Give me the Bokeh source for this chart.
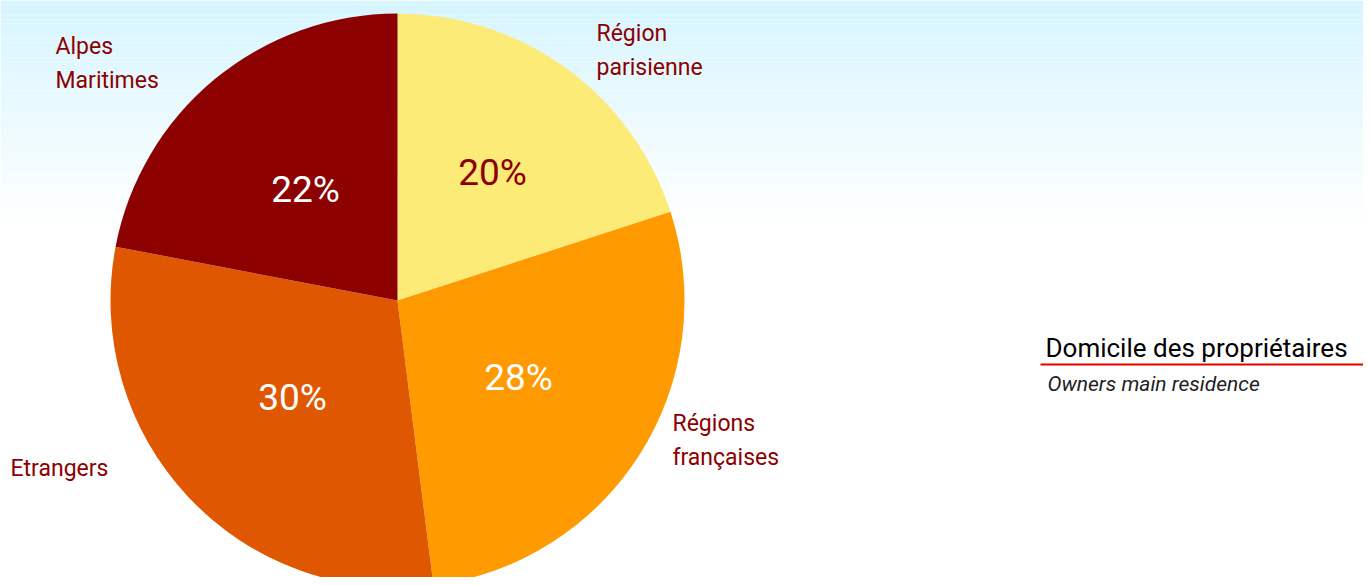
import math
from bokeh.plotting import figure
from bokeh.models import Range1d, ColumnDataSource
from bokeh.core.properties import value
from bokeh.embed import file_html
from bokeh.resources import INLINE

# ---- data ----
categories = ["Région\nparisienne", "Régions\nfrançaises", "Etrangers", "Alpes\nMaritimes"]
shares = [20, 28, 30, 22]
colors = ["#FDEB78", "#FF9A00", "#DF5800", "#8C0000"]
pct_colors = ["#8C0000", "#FFFFFF", "#FFFFFF", "#FFFFFF"]
title_text = "Domicile des propriétaires"
subtitle_text = "Owners  main residence"

# ---- layout (figure pixel coords, y up) ----
W, H = 1363, 577
def fx(x): return x
def fy(y): return H - y
K = 0.37  # baseline correction (fraction of font size)

cx, cy, R = fx(397), fy(300), 287
label_pos = [(596, 42), (672, 432), (10, 477), (55, 55)]       # left / first-line baseline
label_step = 34
pct_pos = [(492, 186), (518, 391), (292, 411), (305, 203)]      # centre / baseline of % labels

FONT = "Roboto"
PCT_SIZE, LAB_SIZE, TIT_SIZE, SUB_SIZE = 37, 23, 26, 21

p = figure(width=W, height=H, output_backend="svg", toolbar_location=None,
           x_range=Range1d(0, W), y_range=Range1d(0, H), min_border=0)
p.axis.visible = False
p.grid.visible = False
p.outline_line_color = None
p.background_fill_color = "white"
p.border_fill_color = "white"

# background gradient (decoration)
top_c = (214, 245, 255)
grad_end = fy(228)
n = 60
band_top, band_bot, band_col = [], [], []
for i in range(n):
    t0 = i / n
    t1 = (i + 1) / n
    band_top.append(H - (H - grad_end) * t0)
    band_bot.append(H - (H - grad_end) * t1)
    tm = (t0 + t1) / 2
    c = tuple(int(round(top_c[k] + (255 - top_c[k]) * tm)) for k in range(3))
    band_col.append("#%02x%02x%02x" % c)
p.quad(left=0, right=W, top=band_top, bottom=band_bot, fill_color=band_col, line_color=None)

# pie
total = sum(shares)
starts, ends = [], []
cum = 0
for s in shares:
    starts.append(math.pi / 2 - 2 * math.pi * cum / total)
    cum += s
    ends.append(math.pi / 2 - 2 * math.pi * cum / total)
src = ColumnDataSource(dict(start=starts, end=ends, color=colors))
p.wedge(x=cx, y=cy, radius=R, start_angle="start", end_angle="end", direction="clock",
        fill_color="color", line_color=None, source=src)

# percentage labels
p.text(x=[fx(px) for px, _ in pct_pos], y=[fy(py) + K * PCT_SIZE for _, py in pct_pos],
       text=[f"{s}%" for s in shares], text_color=pct_colors,
       text_font=value(FONT), text_font_size=f"{PCT_SIZE}px",
       text_align="center", text_baseline="alphabetic")

# category labels (one text per line)
lx, ly, lt = [], [], []
for cat, (x0, y0) in zip(categories, label_pos):
    for j, line in enumerate(cat.split("\n")):
        lx.append(fx(x0))
        ly.append(fy(y0 + j * label_step) + K * LAB_SIZE)
        lt.append(line)
p.text(x=lx, y=ly, text=lt, text_color="#8C0000",
       text_font=value(FONT), text_font_size=f"{LAB_SIZE}px",
       text_align="left", text_baseline="alphabetic")

# title block
p.text(x=[fx(1045)], y=[fy(357) + K * TIT_SIZE], text=[title_text], text_color="black",
       text_font=value(FONT), text_font_size=f"{TIT_SIZE}px",
       text_align="left", text_baseline="alphabetic")
p.segment(x0=[fx(1040)], y0=[fy(364)], x1=[W], y1=[fy(364)], line_color="#E00000", line_width=2)
p.text(x=[fx(1047)], y=[fy(391) + K * SUB_SIZE], text=[subtitle_text], text_color="#222222",
       text_font=value(FONT), text_font_size=f"{SUB_SIZE}px", text_font_style="italic",
       text_align="left", text_baseline="alphabetic")

open("out.html", "w").write(file_html(p, INLINE))
